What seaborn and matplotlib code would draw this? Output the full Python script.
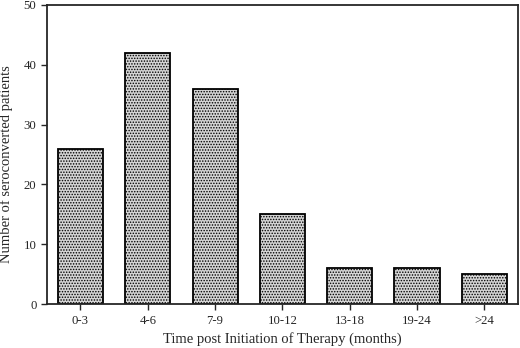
import matplotlib as mpl
import matplotlib.pyplot as plt
import pandas as pd
import seaborn as sns

mpl.use('Agg')

CATEGORIES = ["0-3", "4-6", "7-9", "10-12", "13-18", "19-24", ">24"]
PATIENTS = [26, 42, 36, 15, 6, 6, 5]

sns.set_style("ticks")
plt.rcParams['font.family'] = ['Liberation Serif', 'DejaVu Serif']
plt.rcParams['hatch.linewidth'] = 0.7
plt.rcParams['hatch.color'] = '#333333'


def main():
    df = pd.DataFrame({"period": CATEGORIES, "n": PATIENTS})
    fig = plt.figure(figsize=(5.2, 3.48), dpi=100)
    ax = fig.add_axes([0.090, 0.126, 0.906, 0.860])
    sns.barplot(data=df, x="period", y="n", color="#d4d4d4", width=0.67,
                edgecolor="black", linewidth=1.3, ax=ax)
    for patch in ax.patches:
        patch.set_hatch("......")
    # Aesthetics
    ax.set_ylim(0, 50)
    ax.set_xlim(-0.5, 6.5)
    ax.set_yticks(range(0, 51, 10))
    ax.set_xlabel("Time post Initiation of Therapy (months)", fontsize=10.5)
    ax.set_ylabel("Number of seroconverted patients", fontsize=10.5)
    ax.yaxis.set_label_coords(-0.072, 0.467)
    ax.tick_params(axis="both", labelsize=9.2, length=4, width=1, direction="out")
    for spine in ax.spines.values():
        spine.set_linewidth(1.3)
        spine.set_visible(True)
    fig.savefig("out.png", dpi=100)
    plt.close(fig)


if __name__ == '__main__':
    main()
